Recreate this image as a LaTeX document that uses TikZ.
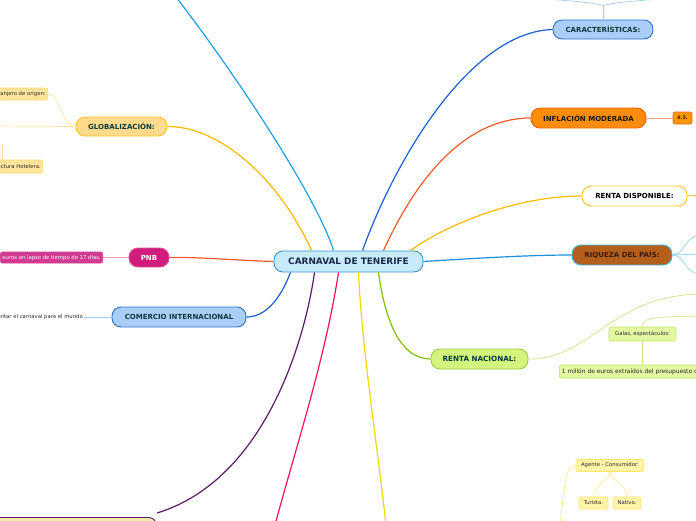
\documentclass[tikz,border=0pt]{standalone}
\usepackage{fontspec}
\setmainfont{DejaVu Sans}
\definecolor{cenfill}{HTML}{C8EBFA}
\definecolor{cendraw}{HTML}{3A94D4}
\definecolor{navy}{HTML}{1B2A48}
\definecolor{dkgreen}{HTML}{0B3B3B}
\definecolor{bluefill}{HTML}{A9CFF9}
\definecolor{bluedraw}{HTML}{2F6FD0}
\definecolor{orfill}{HTML}{FF8C0A}
\definecolor{ordraw}{HTML}{E8650A}
\definecolor{amber}{HTML}{FFB800}
\definecolor{brownfill}{HTML}{B4601C}
\definecolor{browntext}{HTML}{3A1A05}
\definecolor{skydraw}{HTML}{3AB4EC}
\definecolor{grfill}{HTML}{D3F57E}
\definecolor{grdraw}{HTML}{9CCB3A}
\definecolor{lgrfill}{HTML}{E2F8A2}
\definecolor{lgrdraw}{HTML}{C0E46A}
\definecolor{magfill}{HTML}{D01C7C}
\definecolor{magdraw}{HTML}{E84A8A}
\definecolor{magleaf}{HTML}{D23A92}
\definecolor{globfill}{HTML}{FFDA8C}
\definecolor{globdraw}{HTML}{FFC328}
\definecolor{leaffill}{HTML}{FFE59C}
\definecolor{leafdraw}{HTML}{FFD466}
\definecolor{yelfill}{HTML}{FFF4A8}
\definecolor{yeldraw}{HTML}{FFE466}
\definecolor{khaki}{HTML}{F2EAA6}
\definecolor{purp}{HTML}{5A1A6A}
\definecolor{cskyblue}{HTML}{1EA0E8}
\definecolor{cblue}{HTML}{1A5FD0}
\definecolor{cred}{HTML}{F05A28}
\definecolor{crich}{HTML}{1A90D8}
\definecolor{cgreen}{HTML}{80C000}
\definecolor{cyellow}{HTML}{F0D800}
\definecolor{cpink}{HTML}{F0106A}
\definecolor{txtgray}{HTML}{2A2A2A}
\definecolor{lblue}{HTML}{A8C8F0}
\definecolor{lsky}{HTML}{8CD4F4}
\definecolor{lorange}{HTML}{F8A080}
\definecolor{lpink}{HTML}{F4A0A8}
\definecolor{lgreen}{HTML}{C8E68A}
\definecolor{lamber}{HTML}{FFE2A0}
\definecolor{lyellow}{HTML}{FFE98A}
\tikzset{
  mainbox/.style={draw, line width=0.9pt, rounded corners=9pt, inner sep=0pt, align=center,
    font=\fontsize{7}{8}\selectfont\bfseries},
  leafbox/.style={draw, line width=0.6pt, rounded corners=2pt, inner sep=2pt, align=center,
    font=\fontsize{5.3}{6}\selectfont, text=txtgray},
  mainline/.style={line width=1.2pt},
  subline/.style={line width=0.7pt}
}
\begin{document}
\begin{tikzpicture}[x=1pt,y=-1pt]
\useasboundingbox (0,0) rectangle (696,520);
\clip (0,0) rectangle (696,520);
% nodes
\node[mainbox, fill=cenfill, draw=cendraw, text=navy, minimum width=149pt, minimum height=21pt,
  font=\fontsize{8.9}{9}\selectfont\bfseries] (c) at (348.5,261.5) {CARNAVAL DE TENERIFE};
\node[mainbox, fill=bluefill, draw=bluedraw, text=dkgreen, minimum width=100pt, minimum height=19pt] (car) at (603,29.5) {CARACTERÍSTICAS:};
\node[mainbox, fill=orfill, draw=ordraw, text=black!90, minimum width=115pt, minimum height=20pt] (inf) at (588.5,118) {INFLACIÓN MODERADA};
\node[leafbox, fill=orfill!90!yellow, draw=ordraw, text=browntext, minimum width=19pt, minimum height=12pt, inner sep=0pt, font=\fontsize{5}{6}\selectfont\bfseries] (four) at (682.5,118) {4.5.};
\node[mainbox, fill=white, draw=globdraw, text=black, minimum width=105pt, minimum height=20pt] (rdisp) at (634.5,196) {RENTA DISPONIBLE:};
\node[mainbox, fill=brownfill, draw=skydraw, text=browntext, minimum width=100pt, minimum height=20pt] (riq) at (622,255) {RIQUEZA DEL PAÍS:};
\node[mainbox, fill=grfill, draw=grdraw, text=dkgreen, minimum width=97pt, minimum height=20pt,
  font=\fontsize{7.2}{8}\selectfont\bfseries] (rnac) at (479.5,359) {RENTA NACIONAL:};
\node[leafbox, fill=lgrfill, draw=lgrdraw, minimum width=67pt, minimum height=14pt, inner sep=0pt] (galas) at (642.5,334) {Galas, espectáculos:};
\node[leafbox, fill=lgrfill, draw=lgrdraw, anchor=west, text width=160pt, align=left, minimum height=13pt, inner sep=2.5pt,
  font=\fontsize{5.9}{6.5}\selectfont] (mill) at (559,371.5) {1 millón de euros extraídos del presupuesto de la};
\node[mainbox, fill=magfill, draw=magdraw, text=white, minimum width=40pt, minimum height=19pt] (pnb) at (149,257.5) {PNB};
\node[leafbox, fill=magleaf, draw=magleaf, text=white, anchor=east, minimum height=11pt, inner sep=2pt] (pnbleaf) at (103,257.5) {euros en lapso de tiempo de 17 días.};
\node[font=\fontsize{5.3}{6}\selectfont, text=txtgray, anchor=east, inner sep=1pt] (comleaf) at (84,317) {Presentar el carnaval para el mundo};
\node[mainbox, fill=bluefill, draw=bluedraw, text=dkgreen, minimum width=134pt, minimum height=20pt] (com) at (179,317) {COMERCIO INTERNACIONAL};
\node[mainbox, fill=globfill, draw=globdraw, text=dkgreen, minimum width=91pt, minimum height=19pt] (glob) at (121.5,126.5) {GLOBALIZACIÓN:};
\node[leafbox, fill=leaffill, draw=leafdraw, anchor=east, minimum height=12pt, inner sep=2pt] (ext) at (48,94) {Extranjero de origen:};
\node[leafbox, fill=leaffill, draw=leafdraw, anchor=east, minimum height=13pt, inner sep=2pt] (hot) at (43,166.5) {Infraestructura Hotelera.};
\node[leafbox, fill=yelfill, draw=yeldraw, minimum width=68pt, minimum height=12pt, inner sep=0pt] (agente) at (610,465.5) {Agente - Consumidor:};
\node[leafbox, fill=yelfill, draw=yeldraw, minimum width=29pt, minimum height=12pt, inner sep=0pt] (turista) at (593.5,503) {Turista.};
\node[leafbox, fill=yelfill, draw=yeldraw, minimum width=28pt, minimum height=12pt, inner sep=0pt] (nativo) at (627,503) {Nativo.};
\node[draw=purp, fill=khaki, line width=0.9pt, rounded corners=8pt, anchor=north east, minimum width=220pt, minimum height=26pt] (bot) at (157,517) {};
% free ends
\coordinate (topL) at (176,-3);
\coordinate (botY) at (386,525);
\coordinate (botP) at (275,525);
\coordinate (carj) at (603,6);
\coordinate (carL) at (500,-4);
\coordinate (carR) at (700,-4);
\coordinate (rdR) at (700,195);
\coordinate (riq1) at (700,235);
\coordinate (riq2) at (700,254);
\coordinate (riq3) at (700,274);
\coordinate (rnR) at (700,294);
\coordinate (galR) at (700,316);
\coordinate (globL) at (-5,126);
\coordinate (hotS) at (2,144);
\coordinate (agB) at (560,525);
% main connectors
\draw[mainline, cskyblue] ([xshift=-15pt]c.north) .. controls (318,200) and (240,80) .. (topL);
\draw[mainline, cblue] ([xshift=14pt]c.north) .. controls (395,160) and (470,32) .. (car.west);
\draw[mainline, cred] ([xshift=35pt]c.north) .. controls (420,170) and (470,118) .. (inf.west);
\draw[mainline, amber] ([xshift=62pt]c.north) .. controls (450,222) and (520,196) .. (rdisp.west);
\draw[mainline, crich] (c.east) .. controls (480,258) and (530,255) .. (riq.west);
\draw[mainline, cgreen] ([xshift=30pt]c.south) .. controls (385,320) and (400,359) .. (rnac.west);
\draw[mainline, cyellow] ([xshift=10pt]c.south) .. controls (362,350) and (378,450) .. (botY);
\draw[mainline, cpink] ([xshift=-10pt]c.south) .. controls (325,360) and (295,450) .. (botP);
\draw[mainline, purp] ([xshift=-34pt]c.south) .. controls (305,340) and (265,480) .. ([yshift=4pt]bot.north east);
\draw[mainline, cred] (c.west) .. controls (230,260) and (200,257) .. (pnb.east);
\draw[mainline, amber] ([xshift=-37pt]c.north) .. controls (280,180) and (220,126) .. (glob.east);
\draw[mainline, cblue] ([xshift=-58pt]c.south) .. controls (280,300) and (265,317) .. (com.east);
% sub connectors
\draw[subline, lblue] (car.north) -- (carj);
\draw[subline, lblue] (carj) .. controls (596,2) and (560,0) .. (carL);
\draw[subline, lblue] (carj) .. controls (610,2) and (650,0) .. (carR);
\draw[subline, lorange] (inf.east) -- (four.west);
\draw[subline, amber] (rdisp.east) -- (rdR);
\draw[subline, lsky] (riq.east) .. controls (685,255) and (684,237) .. (riq1);
\draw[subline, lsky] (riq.east) -- (riq2);
\draw[subline, lsky] (riq.east) .. controls (685,255) and (684,273) .. (riq3);
\draw[subline, lgreen] (rnac.east) .. controls (590,360) and (610,296) .. (rnR);
\draw[subline, lgreen] (galas.north) .. controls (642.5,318) and (650,317) .. (galR);
\draw[subline, lgreen] (galas.south) -- (galas.south |- mill.north);
\draw[subline, lpink] (pnb.west) -- (pnbleaf.east);
\draw[subline, lblue] (com.west) -- (comleaf.east);
\draw[subline, lamber] (glob.west) .. controls (60,126) and (62,94) .. (ext.east);
\draw[subline, lamber] (glob.west) -- (globL);
\draw[subline, lamber] (hotS) -- (hotS |- hot.north);
\draw[subline, lyellow] (agente.south) .. controls (610,480) and (594,484) .. (turista.north);
\draw[subline, lyellow] (agente.south) .. controls (610,480) and (627,484) .. (nativo.north);
\draw[subline, lyellow] (agente.west) .. controls (566,466) and (565,480) .. (agB);
\end{tikzpicture}
\end{document}
